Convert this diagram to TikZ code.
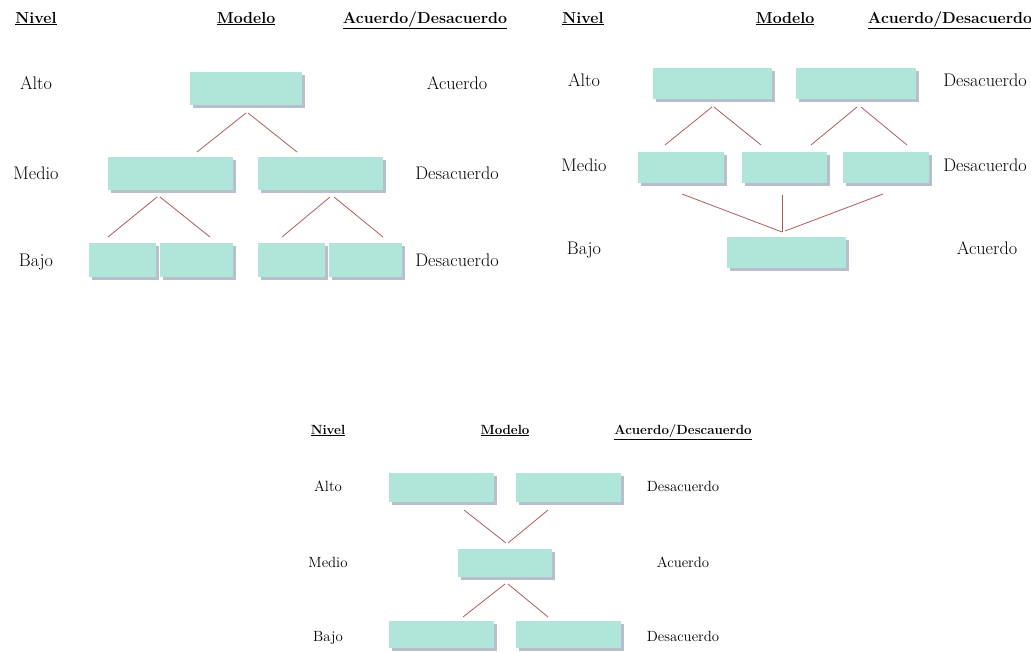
\documentclass[tikz,border=0pt]{standalone}
\usetikzlibrary{shadows}
\definecolor{boxc}{HTML}{B0E6D9}
\definecolor{shadc}{HTML}{A2A8BC}
\definecolor{linec}{HTML}{B25A5A}
\tikzset{
  box/.style={fill=boxc, draw=none, anchor=north west, inner sep=0pt,
    drop shadow={shadow xshift=2.5pt, shadow yshift=-2.5pt, fill=shadc, opacity=0.75}},
  conn/.style={draw=linec, line width=0.8pt},
  labA/.style={anchor=base, font=\fontsize{18.2}{20}\selectfont},
  hdrA/.style={anchor=base, font=\fontsize{15.9}{18}\selectfont\bfseries},
  labC/.style={anchor=base, font=\fontsize{14.8}{16}\selectfont},
  hdrC/.style={anchor=base, font=\fontsize{13.3}{15}\selectfont\bfseries},
}
\newcommand{\bx}[5]{\node[box, minimum width=#4pt, minimum height=#5pt] (#1) at (#2,#3) {};}
\begin{document}
\begin{tikzpicture}[x=1pt,y=-1pt]
\useasboundingbox (0,0) rectangle (1031,651);
% ================= Panel 1 =================
\node[hdrA] (h1n) at (36,23) {\underline{Nivel}};
\node[hdrA] (h1m) at (246,23) {\underline{Modelo}};
\node[hdrA] (h1a) at (425,23) {\underline{Acuerdo/Desacuerdo}};
\node[labA] (l1a) at (36,89) {Alto};
\node[labA] (l1m) at (36,179) {Medio};
\node[labA] (l1b) at (36,266) {Bajo};
\node[labA] (r1a) at (457,89) {Acuerdo};
\node[labA] (r1m) at (457,179) {Desacuerdo};
\node[labA] (r1b) at (457,266) {Desacuerdo};
\bx{p1t}{190}{72}{112}{33}
\bx{p1ml}{108}{157}{125}{33}
\bx{p1mr}{258}{157}{125}{33}
\bx{p1b1}{89}{243}{67}{34}
\bx{p1b2}{160}{243}{73}{34}
\bx{p1b3}{258}{243}{67}{34}
\bx{p1b4}{329}{243}{73}{34}
\coordinate (c1a) at (246,113); \coordinate (c1b) at (248,113);
\coordinate (c1c) at (197,152); \coordinate (c1d) at (297,152);
\draw[conn] (c1a) -- (c1c); \draw[conn] (c1b) -- (c1d);
\coordinate (c1e) at (157,197); \coordinate (c1f) at (160,197);
\coordinate (c1g) at (108,237); \coordinate (c1h) at (210,237);
\draw[conn] (c1e) -- (c1g); \draw[conn] (c1f) -- (c1h);
\coordinate (c1i) at (330,197); \coordinate (c1j) at (334,197);
\coordinate (c1k) at (282,237); \coordinate (c1l) at (383,237);
\draw[conn] (c1i) -- (c1k); \draw[conn] (c1j) -- (c1l);
% ================= Panel 2 =================
\node[hdrA] (h2n) at (583,23) {\underline{Nivel}};
\node[hdrA] (h2m) at (785,23) {\underline{Modelo}};
\node[hdrA] (h2a) at (950,23) {\underline{Acuerdo/Desacuerdo}};
\node[labA] (l2a) at (584,86) {Alto};
\node[labA] (l2m) at (584,171) {Medio};
\node[labA] (l2b) at (584,254) {Bajo};
\node[labA] (r2a) at (985,86) {Desacuerdo};
\node[labA] (r2m) at (985,171) {Desacuerdo};
\node[labA] (r2b) at (987,254) {Acuerdo};
\bx{p2tl}{653}{68}{119}{31}
\bx{p2tr}{796}{68}{120}{31}
\bx{p2m1}{638}{152}{86}{31}
\bx{p2m2}{742}{152}{85}{31}
\bx{p2m3}{843}{152}{86}{31}
\bx{p2b}{727}{237}{119}{31}
\coordinate (c2a) at (712,107); \coordinate (c2b) at (714,107);
\coordinate (c2c) at (665,145); \coordinate (c2d) at (761,145);
\draw[conn] (c2a) -- (c2c); \draw[conn] (c2b) -- (c2d);
\coordinate (c2e) at (857,107); \coordinate (c2f) at (861,107);
\coordinate (c2g) at (811,145); \coordinate (c2h) at (907,145);
\draw[conn] (c2e) -- (c2g); \draw[conn] (c2f) -- (c2h);
\coordinate (c2i) at (682,194); \coordinate (c2j) at (782,195);
\coordinate (c2k) at (883,194); \coordinate (c2l) at (782,232);
\coordinate (c2m) at (785,231);
\draw[conn] (c2i) -- (c2l); \draw[conn] (c2j) -- (c2l); \draw[conn] (c2k) -- (c2m);
% ================= Panel 3 =================
\node[hdrC] (h3n) at (328,434) {\underline{Nivel}};
\node[hdrC] (h3m) at (505,434) {\underline{Modelo}};
\node[hdrC] (h3a) at (683,434) {\underline{Acuerdo/Descauerdo}};
\node[labC] (l3a) at (328,491) {Alto};
\node[labC] (l3m) at (328,567) {Medio};
\node[labC] (l3b) at (328,641) {Bajo};
\node[labC] (r3a) at (683,491) {Desacuerdo};
\node[labC] (r3m) at (683,567) {Acuerdo};
\node[labC] (r3b) at (683,641) {Desacuerdo};
\bx{p3tl}{389}{473}{105}{29}
\bx{p3tr}{516}{473}{105}{29}
\bx{p3m}{458}{549}{94}{28}
\bx{p3bl}{389}{621}{105}{27}
\bx{p3br}{516}{621}{105}{27}
\coordinate (c3a) at (464,510); \coordinate (c3b) at (548,510);
\coordinate (c3c) at (506,543); \coordinate (c3d) at (508,543);
\draw[conn] (c3a) -- (c3c); \draw[conn] (c3b) -- (c3d);
\coordinate (c3e) at (505,584); \coordinate (c3f) at (508,584);
\coordinate (c3g) at (463,617); \coordinate (c3h) at (548,617);
\draw[conn] (c3e) -- (c3g); \draw[conn] (c3f) -- (c3h);
\end{tikzpicture}
\end{document}
